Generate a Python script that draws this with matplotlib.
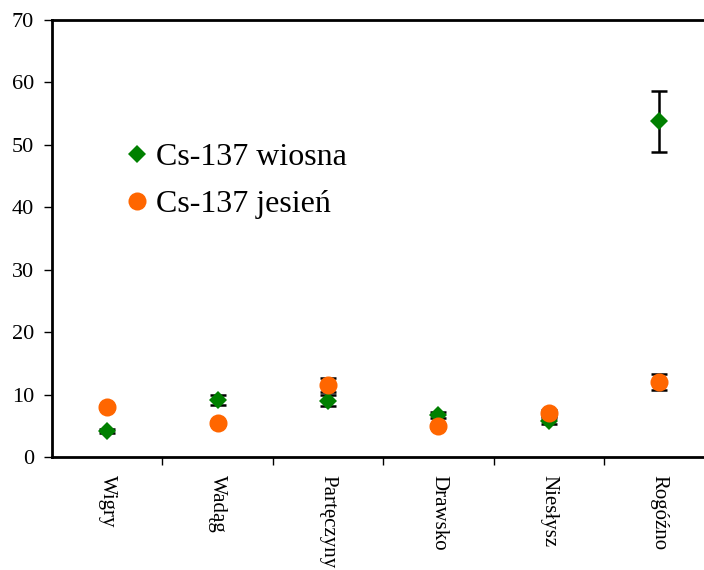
import matplotlib
matplotlib.use("Agg")
import matplotlib.pyplot as plt
from matplotlib.lines import Line2D
import numpy as np

categories = ["Wigry", "Wadąg", "Partęczyny", "Drawsko", "Niesłysz", "Rogóźno"]
wiosna = [4.2, 9.1, 9.0, 6.7, 5.8, 53.8]
wiosna_err = [0.3, 0.8, 0.9, 0.5, 0.5, 4.9]
jesien = [8.0, 5.5, 11.5, 5.0, 7.1, 12.0]
jesien_err = [0.3, 0.3, 1.1, 0.3, 0.5, 1.3]

plt.rcParams['font.family'] = ['Liberation Serif', 'DejaVu Serif']

fig = plt.figure(figsize=(7.04, 5.70), dpi=100)
ax = fig.add_axes([52/704, 113/570, 652/704, 437/570])

x = np.arange(1, len(categories) + 1)
green = '#008000'
orange = '#FF6600'
ax.errorbar(x, wiosna, yerr=wiosna_err, fmt='none', ecolor='black',
            elinewidth=1.8, capsize=6, capthick=1.8, zorder=2)
ax.plot(x, wiosna, 'D', color=green, markersize=9.5, markeredgewidth=0, zorder=3)
ax.errorbar(x, jesien, yerr=jesien_err, fmt='none', ecolor='black',
            elinewidth=1.8, capsize=6, capthick=1.8, zorder=3.5)
ax.plot(x, jesien, 'o', color=orange, markersize=13, markeredgewidth=0, zorder=4)

ax.set_ylim(0, 70)
ax.set_yticks(range(0, 71, 10))
ax.set_xlim(0.5, 0.5 + 652/110.4)
ax.set_xticks(x)
ax.set_xticklabels(categories, rotation=270, fontsize=15, va='top', ha='center')
ax.set_xticks(np.arange(1.5, len(categories), 1), minor=True)
ax.tick_params(axis='x', which='major', length=0, pad=13)
ax.tick_params(axis='x', which='minor', length=6, width=1, direction='out')
ax.tick_params(axis='y', length=6, width=1, labelsize=16, direction='out', pad=7)

for s in ['left', 'bottom', 'top']:
    ax.spines[s].set_linewidth(2)
ax.spines['right'].set_visible(False)

handles = [Line2D([], [], ls='none', marker='D', color=green, markersize=9, markeredgewidth=0),
           Line2D([], [], ls='none', marker='o', color=orange, markersize=13, markeredgewidth=0)]
labels = ['Cs-137 wiosna', 'Cs-137 jesień']
ax.legend(handles, labels, loc='upper left', bbox_to_anchor=(111/704, 443/570),
          bbox_transform=fig.transFigure, frameon=False, fontsize=23,
          handlelength=0.6, handletextpad=0.3, labelspacing=0.55, borderpad=0)

fig.savefig('out.png', dpi=100)
